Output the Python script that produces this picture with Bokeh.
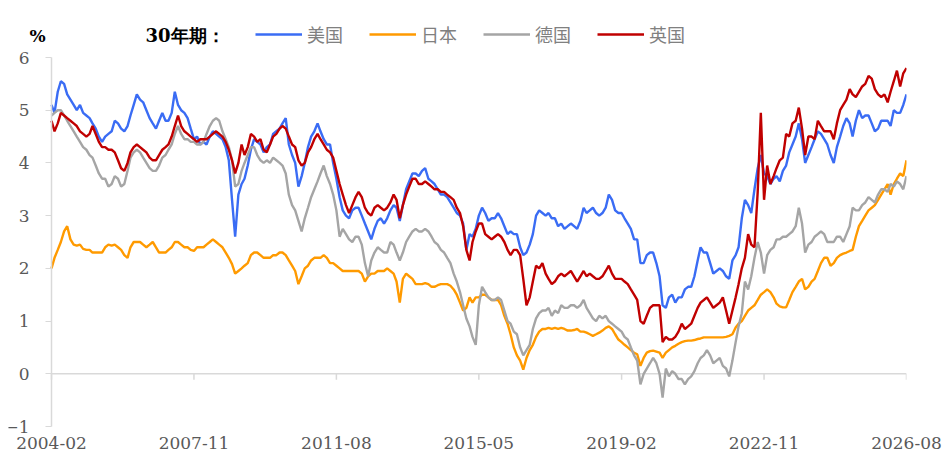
import pandas as pd
from bokeh.plotting import figure
from bokeh.models import (ColumnDataSource, Range1d, FixedTicker,
                          DatetimeTickFormatter, Label, Legend, LegendItem)
from bokeh.embed import file_html
from bokeh.resources import INLINE

# 30年期国债收益率 (%), 月度, 2004-02 起
start_month = "2004-02"
tick_labels = ["2004-02", "2007-11", "2011-08", "2015-05", "2019-02", "2022-11", "2026-08"]
y_ticks = [-1, 0, 1, 2, 3, 4, 5, 6]
names = ["美国", "日本", "德国", "英国"]
colors = ["#3A6CF4", "#FF9A00", "#A5A5A5", "#C00000"]

us = [
    5.1, 4.95, 5.35, 5.55, 5.5, 5.3, 5.2, 5.1, 5.0, 5.1, 4.95,                    # 2004
    4.9, 4.85, 4.75, 4.65, 4.5, 4.4, 4.5, 4.55, 4.6, 4.8, 4.75, 4.65,              # 2005
    4.6, 4.7, 4.9, 5.1, 5.3, 5.2, 5.15, 5.0, 4.85, 4.75, 4.65, 4.8,                # 2006
    4.95, 4.8, 4.8, 4.95, 5.35, 5.1, 5.0, 4.95, 4.85, 4.65, 4.45, 4.5,             # 2007
    4.35, 4.4, 4.35, 4.5, 4.6, 4.55, 4.5, 4.45, 4.3, 4.05, 3.3, 2.6,               # 2008
    3.4, 3.6, 3.7, 3.95, 4.25, 4.45, 4.4, 4.35, 4.2, 4.3, 4.35, 4.55,              # 2009
    4.6, 4.65, 4.75, 4.85, 4.35, 4.15, 4.0, 3.55, 3.75, 4.0, 4.3, 4.5,             # 2010
    4.6, 4.75, 4.6, 4.45, 4.35, 4.35, 4.0, 3.7, 3.35, 3.1, 3.0, 2.95,              # 2011
    3.1, 3.15, 3.15, 3.0, 2.85, 2.7, 2.55, 2.75, 2.9, 2.95, 2.85, 2.95,            # 2012
    3.1, 3.2, 3.15, 2.9, 3.2, 3.5, 3.65, 3.8, 3.8, 3.75, 3.85, 3.9,                # 2013
    3.7, 3.65, 3.6, 3.5, 3.4, 3.4, 3.35, 3.25, 3.15, 3.05, 3.0, 2.85,              # 2014
    2.35, 2.65, 2.6, 2.75, 3.0, 3.15, 3.05, 2.9, 2.95, 2.95, 3.05, 2.95,           # 2015
    2.8, 2.65, 2.7, 2.65, 2.65, 2.4, 2.25, 2.3, 2.45, 2.65, 3.0, 3.1,              # 2016
    3.05, 3.0, 3.05, 2.95, 2.95, 2.8, 2.85, 2.75, 2.8, 2.85, 2.8, 2.75,            # 2017
    2.9, 3.15, 3.05, 3.1, 3.15, 3.05, 3.0, 3.05, 3.15, 3.4, 3.3, 3.1,              # 2018
    3.05, 3.05, 2.95, 2.85, 2.75, 2.55, 2.55, 2.1, 2.1, 2.25, 2.3, 2.3,            # 2019
    2.1, 1.85, 1.3, 1.25, 1.45, 1.5, 1.35, 1.45, 1.45, 1.6, 1.65, 1.65,            # 2020
    1.85, 2.15, 2.4, 2.3, 2.3, 2.1, 1.9, 1.95, 2.0, 1.95, 1.85, 1.8,               # 2021
    2.15, 2.25, 2.4, 2.95, 3.3, 3.2, 3.05, 3.5, 3.9, 4.15, 3.8, 3.75,              # 2022
    3.6, 3.7, 3.75, 3.65, 3.85, 3.95, 4.2, 4.35, 4.5, 4.75, 4.45, 4.0,             # 2023
    4.15, 4.3, 4.45, 4.6, 4.55, 4.45, 4.35, 4.15, 4.0, 4.3, 4.5, 4.7,              # 2024
    4.85, 4.75, 4.5, 4.8, 5.0, 4.85, 4.9, 4.9, 4.75, 4.6, 4.65, 4.8,               # 2025
    4.8, 4.8, 4.7, 5.0, 4.95, 4.95, 5.1, 5.3,                                      # 2026
]

jp = [
    2.0, 2.2, 2.35, 2.5, 2.7, 2.8, 2.55, 2.45, 2.43, 2.45, 2.37,                   # 2004
    2.35, 2.35, 2.3, 2.3, 2.3, 2.3, 2.4, 2.45, 2.43, 2.45, 2.4, 2.35,              # 2005
    2.25, 2.2, 2.4, 2.5, 2.5, 2.5, 2.45, 2.4, 2.45, 2.5, 2.4, 2.3,                 # 2006
    2.3, 2.3, 2.35, 2.4, 2.5, 2.5, 2.45, 2.4, 2.4, 2.35, 2.33, 2.4,                # 2007
    2.4, 2.4, 2.45, 2.5, 2.55, 2.5, 2.45, 2.4, 2.3, 2.2, 2.08, 1.9,                # 2008
    1.95, 2.0, 2.05, 2.1, 2.25, 2.3, 2.3, 2.25, 2.2, 2.2, 2.2, 2.25,               # 2009
    2.25, 2.3, 2.3, 2.25, 2.15, 2.05, 1.95, 1.7, 1.85, 2.0, 2.05, 2.15,            # 2010
    2.2, 2.2, 2.2, 2.25, 2.2, 2.1, 2.1, 2.05, 2.0, 1.95, 1.95, 1.95,               # 2011
    1.95, 1.95, 1.95, 1.9, 1.75, 1.85, 1.9, 1.9, 1.95, 1.95, 1.95, 2.0,            # 2012
    1.95, 1.9, 1.75, 1.35, 1.8, 1.9, 1.85, 1.8, 1.7, 1.7, 1.7, 1.72,               # 2013
    1.7, 1.65, 1.65, 1.68, 1.7, 1.7, 1.7, 1.67, 1.6, 1.5, 1.35, 1.2,               # 2014
    1.25, 1.45, 1.35, 1.45, 1.45, 1.5, 1.5, 1.45, 1.4, 1.4, 1.4, 1.3,              # 2015
    1.1, 0.95, 0.75, 0.5, 0.35, 0.25, 0.08, 0.3, 0.45, 0.55, 0.7, 0.8,             # 2016
    0.85, 0.85, 0.87, 0.85, 0.87, 0.85, 0.87, 0.85, 0.82, 0.82, 0.83, 0.85,        # 2017
    0.8, 0.8, 0.78, 0.75, 0.72, 0.75, 0.78, 0.82, 0.87, 0.9, 0.85, 0.75,           # 2018
    0.65, 0.6, 0.55, 0.5, 0.45, 0.4, 0.37, 0.15, 0.3, 0.4, 0.43, 0.44,             # 2019
    0.42, 0.4, 0.3, 0.4, 0.45, 0.5, 0.53, 0.57, 0.6, 0.62, 0.63, 0.63,             # 2020
    0.64, 0.66, 0.67, 0.69, 0.69, 0.69, 0.69, 0.69, 0.69, 0.69, 0.7, 0.72,         # 2021
    0.75, 0.88, 0.95, 1.0, 1.1, 1.2, 1.25, 1.3, 1.4, 1.5, 1.55, 1.6,               # 2022
    1.55, 1.45, 1.33, 1.28, 1.26, 1.26, 1.4, 1.55, 1.65, 1.75, 1.8, 1.6,           # 2023
    1.65, 1.75, 1.8, 1.95, 2.1, 2.2, 2.2, 2.05, 2.1, 2.2, 2.25, 2.28,              # 2024
    2.3, 2.33, 2.35, 2.6, 2.8, 2.9, 3.0, 3.1, 3.15, 3.2, 3.3, 3.4,                 # 2025
    3.5, 3.6, 3.4, 3.6, 3.7, 3.8, 3.75, 4.05,                                      # 2026
]

de = [
    4.9, 4.95, 5.0, 5.0, 4.9, 4.8, 4.7, 4.6, 4.5, 4.4, 4.3,                        # 2004
    4.25, 4.15, 4.1, 3.95, 3.8, 3.7, 3.7, 3.55, 3.6, 3.75, 3.7, 3.55,              # 2005
    3.6, 3.85, 4.1, 4.2, 4.25, 4.2, 4.1, 4.0, 3.9, 3.85, 3.85, 3.95,               # 2006
    4.1, 4.15, 4.25, 4.35, 4.55, 4.7, 4.55, 4.45, 4.45, 4.4, 4.4, 4.35,            # 2007
    4.35, 4.4, 4.55, 4.7, 4.8, 4.85, 4.8, 4.6, 4.45, 4.3, 4.05, 3.55,              # 2008
    3.6, 3.85, 4.0, 4.15, 4.3, 4.3, 4.15, 4.05, 4.0, 4.05, 4.0, 4.1,               # 2009
    4.05, 4.0, 3.95, 3.8, 3.4, 3.2, 3.1, 2.9, 2.7, 2.95, 3.15, 3.35,               # 2010
    3.5, 3.65, 3.8, 3.95, 3.75, 3.6, 3.4, 3.1, 2.6, 2.75, 2.65, 2.55,              # 2011
    2.5, 2.6, 2.6, 2.45, 2.1, 1.85, 2.15, 2.3, 2.4, 2.35, 2.3, 2.3,                # 2012
    2.5, 2.45, 2.3, 2.15, 2.3, 2.5, 2.6, 2.7, 2.75, 2.7, 2.7, 2.75,                # 2013
    2.7, 2.6, 2.5, 2.45, 2.35, 2.3, 2.2, 2.1, 1.9, 1.75, 1.55, 1.3,                # 2014
    1.05, 0.9, 0.7, 0.55, 1.3, 1.65, 1.55, 1.45, 1.4, 1.4, 1.45, 1.4,              # 2015
    1.2, 1.0, 0.95, 0.8, 0.75, 0.5, 0.35, 0.45, 0.55, 0.85, 1.05, 1.15,            # 2016
    1.2, 1.2, 1.25, 1.1, 1.2, 1.15, 1.3, 1.25, 1.25, 1.3, 1.3, 1.25,               # 2017
    1.3, 1.4, 1.25, 1.15, 1.05, 1.0, 1.1, 1.05, 1.1, 1.0, 0.95, 0.9,               # 2018
    0.85, 0.8, 0.7, 0.65, 0.5, 0.35, 0.25, -0.2, 0.0, 0.1, 0.2, 0.3,               # 2019
    0.2, 0.0, -0.45, 0.1, -0.05, 0.05, 0.0, -0.1, -0.1, -0.2, -0.1, -0.05,         # 2020
    0.05, 0.2, 0.3, 0.35, 0.45, 0.35, 0.2, 0.25, 0.3, 0.15, 0.1, -0.05,            # 2021
    0.25, 0.6, 0.9, 1.15, 1.75, 1.6, 1.85, 2.2, 2.5, 2.3, 1.9, 2.25,               # 2022
    2.35, 2.4, 2.55, 2.55, 2.6, 2.6, 2.65, 2.7, 2.8, 3.15, 2.85, 2.3,              # 2023
    2.45, 2.5, 2.6, 2.65, 2.7, 2.65, 2.5, 2.5, 2.5, 2.6, 2.6, 2.5,                 # 2024
    2.65, 2.8, 3.15, 3.1, 3.1, 3.2, 3.25, 3.35, 3.3, 3.25, 3.4, 3.5,               # 2025
    3.5, 3.45, 3.6, 3.55, 3.65, 3.6, 3.5, 3.75,                                    # 2026
]

uk = [
    4.8, 4.6, 4.75, 4.95, 4.9, 4.85, 4.8, 4.75, 4.7, 4.6, 4.55,                    # 2004
    4.5, 4.55, 4.7, 4.55, 4.4, 4.3, 4.3, 4.25, 4.25, 4.2, 4.05, 3.9,               # 2005
    3.85, 4.0, 4.2, 4.3, 4.35, 4.3, 4.25, 4.2, 4.1, 4.05, 4.05, 4.15,              # 2006
    4.25, 4.3, 4.35, 4.5, 4.7, 4.9, 4.7, 4.6, 4.55, 4.5, 4.45, 4.4,                # 2007
    4.45, 4.45, 4.45, 4.5, 4.55, 4.6, 4.55, 4.5, 4.4, 4.25, 4.05, 3.8,             # 2008
    4.0, 4.35, 4.15, 4.3, 4.55, 4.5, 4.4, 4.45, 4.25, 4.2, 4.35, 4.5,              # 2009
    4.55, 4.65, 4.7, 4.65, 4.5, 4.35, 4.3, 4.05, 3.95, 4.0, 4.2, 4.3,              # 2010
    4.45, 4.55, 4.45, 4.35, 4.25, 4.2, 4.1, 3.85, 3.6, 3.4, 3.2, 3.05,             # 2011
    3.2, 3.35, 3.45, 3.35, 3.15, 3.05, 3.0, 3.15, 3.2, 3.15, 3.1, 3.15,            # 2012
    3.25, 3.4, 3.3, 2.95, 3.2, 3.4, 3.55, 3.7, 3.7, 3.6, 3.6, 3.65,                # 2013
    3.6, 3.55, 3.5, 3.5, 3.45, 3.45, 3.4, 3.35, 3.3, 3.15, 3.05, 2.8,              # 2014
    2.35, 2.15, 2.5, 2.7, 2.85, 2.85, 2.65, 2.6, 2.55, 2.6, 2.65, 2.6,             # 2015
    2.5, 2.35, 2.25, 2.35, 2.35, 2.25, 1.8, 1.3, 1.45, 1.75, 2.05, 2.0,            # 2016
    2.1, 1.9, 1.8, 1.7, 1.75, 1.85, 1.9, 1.85, 1.9, 1.95, 1.85, 1.75,              # 2017
    1.85, 1.95, 1.85, 1.9, 1.85, 1.8, 1.8, 1.85, 1.95, 2.05, 1.9, 1.8,             # 2018
    1.8, 1.8, 1.75, 1.7, 1.6, 1.5, 1.4, 1.0, 0.95, 1.1, 1.25, 1.3,                 # 2019
    1.3, 1.3, 0.6, 0.7, 0.65, 0.65, 0.7, 0.8, 0.95, 0.85, 0.9, 0.95,               # 2020
    1.1, 1.25, 1.35, 1.4, 1.45, 1.35, 1.25, 1.3, 1.35, 1.45, 1.2, 0.95,            # 2021
    1.2, 1.45, 1.7, 2.0, 2.2, 2.65, 2.45, 2.4, 3.45, 4.95, 3.3, 3.95,              # 2022
    3.6, 3.75, 3.9, 4.05, 4.1, 4.55, 4.5, 4.75, 4.8, 5.05, 4.65, 4.15,             # 2023
    4.5, 4.5, 4.45, 4.8, 4.7, 4.6, 4.6, 4.6, 4.45, 4.75, 5.0, 5.1,                 # 2024
    5.2, 5.4, 5.3, 5.25, 5.35, 5.45, 5.5, 5.65, 5.6, 5.4, 5.3, 5.25,               # 2025
    5.3, 5.15, 5.35, 5.55, 5.75, 5.45, 5.7, 5.8,                                   # 2026
]

dates = pd.date_range(start_month + "-01", periods=len(us), freq="MS")
source = ColumnDataSource(data=dict(date=dates, us=us, jp=jp, de=de, uk=uk))
tick_dates = pd.to_datetime([t + "-01" for t in tick_labels])
tick_ms = [d.timestamp() * 1000 for d in tick_dates]
start_ms, end_ms = tick_ms[0], tick_ms[-1]

# layout (pixels)
W, H = 944, 466
frame_l, frame_r, frame_t, frame_b = 8, 906, 17, 435
axis_x = 51          # where the value axis sits
y_top_px = 57        # pixel row of the "6" tick
y_bot_px = 426       # pixel row of the "-1" tick
px_per_ms = (frame_r - axis_x) / (end_ms - start_ms)
x_lo = start_ms - (axis_x - frame_l) / px_per_ms
px_per_unit = (y_bot_px - y_top_px) / (y_ticks[-1] - y_ticks[0])
y_hi = y_ticks[-1] + (y_top_px - frame_t) / px_per_unit
y_lo = y_ticks[0] - (frame_b - y_bot_px) / px_per_unit

num_font = "DejaVu Serif"
cjk_font = "Noto Sans CJK SC"
axis_gray = "#D9D9D9"
text_gray = "#595959"

p = figure(width=W, height=H, x_axis_type="datetime",
           x_range=Range1d(x_lo, end_ms), y_range=Range1d(y_lo, y_hi),
           output_backend="svg", toolbar_location=None,
           min_border_left=frame_l, min_border_right=W - frame_r,
           min_border_top=frame_t, min_border_bottom=H - frame_b)
p.outline_line_color = None
p.grid.visible = False

# bottom axis: labels only
xa = p.xaxis[0]
xa.ticker = FixedTicker(ticks=tick_ms)
xa.formatter = DatetimeTickFormatter(days="%Y-%m", months="%Y-%m", years="%Y-%m")
xa.axis_line_color = None
xa.major_tick_out = 0
xa.major_tick_in = 0
xa.minor_tick_out = 0
xa.minor_tick_in = 0
xa.major_label_standoff = 1
xa.major_label_text_font = num_font
xa.major_label_text_font_size = "17px"
xa.major_label_text_color = text_gray

# value axis pinned at the first month
ya = p.yaxis[0]
ya.fixed_location = start_ms
ya.ticker = FixedTicker(ticks=y_ticks)
ya.bounds = (y_ticks[0], y_ticks[-1])
ya.axis_line_color = axis_gray
ya.axis_line_width = 1.5
ya.major_tick_out = 6
ya.major_tick_in = 0
ya.major_tick_line_color = axis_gray
ya.minor_tick_out = 0
ya.minor_tick_in = 0
ya.major_label_standoff = 16
ya.major_label_text_font = num_font
ya.major_label_text_font_size = "17px"
ya.major_label_text_color = text_gray

# zero line with its tick marks
tick_len = 6 / px_per_unit
p.segment(x0=[start_ms], y0=[0], x1=[end_ms], y1=[0], line_color=axis_gray, line_width=1.5)
p.segment(x0=tick_ms, y0=[0] * len(tick_ms), x1=tick_ms, y1=[-tick_len] * len(tick_ms),
          line_color=axis_gray, line_width=1.5)

items = []
for key, name, color in zip(["us", "jp", "de", "uk"], names, colors):
    r = p.line(x="date", y=key, source=source, line_color=color, line_width=2.4)
    items.append(LegendItem(label=name, renderers=[r]))

legend = Legend(items=items, orientation="horizontal", location=(247, 388),
                glyph_width=47, glyph_height=20, label_standoff=5, spacing=26,
                padding=0, margin=0, border_line_color=None, background_fill_alpha=0,
                label_text_font=cjk_font, label_text_font_size="18px",
                label_text_color="#808080")
p.add_layout(legend)

p.add_layout(Label(x=29, y=400, x_units="screen", y_units="screen", text="%",
                   text_align="center", text_baseline="middle",
                   text_font=num_font, text_font_size="17px", text_font_style="bold",
                   text_color="black"))
p.add_layout(Label(x=137, y=400, x_units="screen", y_units="screen", text="30年期：",
                   text_align="left", text_baseline="middle",
                   text_font=num_font, text_font_size="18px",
                   text_font_style="bold", text_color="black"))

open("out.html", "w").write(file_html(p, INLINE))
